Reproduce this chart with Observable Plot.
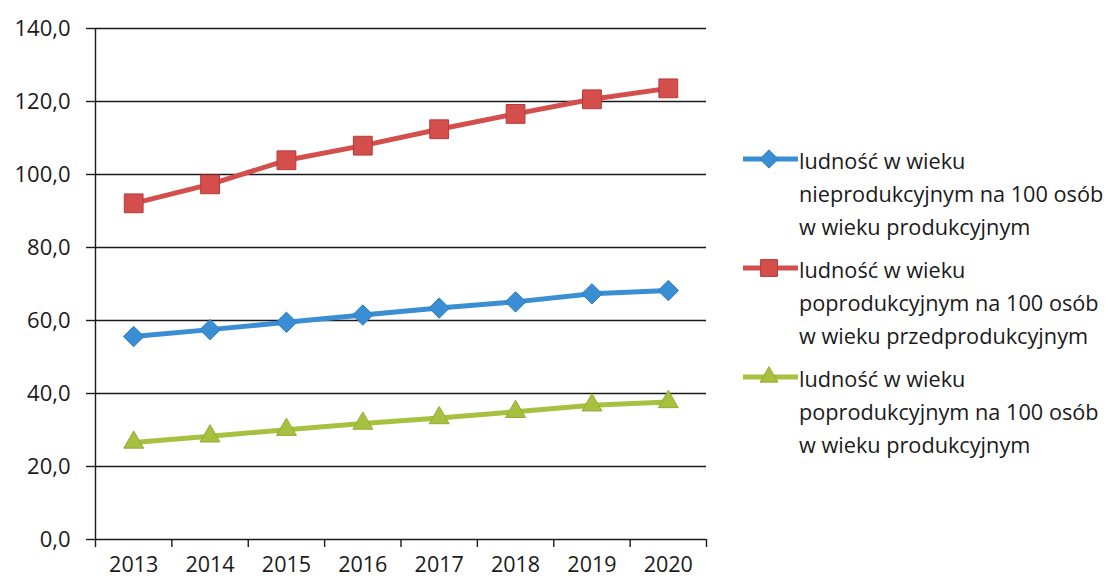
<!DOCTYPE html>
<html>
<head>
<meta charset="utf-8">
<script src="https://cdn.jsdelivr.net/npm/d3@7"></script>
<script src="https://cdn.jsdelivr.net/npm/@observablehq/plot@0.6"></script>
<style>
  html, body { margin: 0; padding: 0; background: #fff; }
  #wrap { position: relative; width: 1110px; height: 580px; font-family: "Open Sans", sans-serif; }
  #chart { position: absolute; left: 0; top: 0; }
  .leg { position: absolute; left: 799px; font-size: 21.7px; line-height: 33px; color: #1a1a1a; white-space: nowrap; }
  .sw { position: absolute; left: 741px; }
</style>
</head>
<body>
<div id="wrap"><div id="chart"></div></div>
<script>
const years = [2013, 2014, 2015, 2016, 2017, 2018, 2019, 2020];
const nieprodukcyjny = [55.6, 57.5, 59.5, 61.5, 63.4, 65.1, 67.3, 68.2];
const poprodPrzed = [92.1, 97.3, 103.9, 107.9, 112.4, 116.6, 120.6, 123.6];
const poprodProd = [26.6, 28.3, 30.1, 31.8, 33.3, 35.0, 36.8, 37.7];
const yTicks = [0, 20, 40, 60, 80, 100, 120, 140];
const seriesNames = [
  ["ludność w wieku", "nieprodukcyjnym na 100 osób", "w wieku produkcyjnym"],
  ["ludność w wieku", "poprodukcyjnym na 100 osób", "w wieku przedprodukcyjnym"],
  ["ludność w wieku", "poprodukcyjnym na 100 osób", "w wieku produkcyjnym"]
];
const colors = ["#3a8ed3", "#d44f4c", "#a8c03f"];
const strokes = ["#2f7cc0", "#b5393a", "#93ab34"];
const symbols = ["diamond2", "square", "triangle"];
const radii = [9.2, 10.6, 7.4];

const seriesValues = [nieprodukcyjny, poprodPrzed, poprodProd];
const data = seriesValues.flatMap((vals, s) => vals.map((v, i) => ({series: s, year: years[i], value: v})));
const boundaries = [...years.map(y => y - 0.5), years[years.length - 1] + 0.5];
const fmt = d => d.toFixed(1).replace(".", ",");

const marks = [
  Plot.ruleY(yTicks, {y: d => d, stroke: "#1a1a1a", strokeWidth: 1.4}),
  Plot.ruleX([boundaries[0]], {y1: 0, y2: yTicks[yTicks.length - 1], stroke: "#1a1a1a", strokeWidth: 1.4}),
  Plot.axisY({ticks: yTicks, label: null, tickSize: 9, tickPadding: 16, tickFormat: fmt, fontSize: 22, stroke: "#1a1a1a", strokeWidth: 1.4, fill: "#1a1a1a"}),
  Plot.axisX({ticks: boundaries, label: null, tickSize: 8, tickFormat: () => "", stroke: "#1a1a1a", strokeWidth: 1.4}),
  Plot.axisX({ticks: years, label: null, tickSize: 0, tickPadding: 17, tickFormat: d => String(d), fontSize: 21.5, fill: "#1a1a1a"})
];
seriesValues.forEach((vals, s) => {
  const rows = data.filter(d => d.series === s);
  marks.push(Plot.line(rows, {x: "year", y: "value", stroke: colors[s], strokeWidth: 5}));
});
seriesValues.forEach((vals, s) => {
  const rows = data.filter(d => d.series === s);
  marks.push(Plot.dot(rows, {x: "year", y: "value", symbol: () => symbols[s], r: radii[s], fill: colors[s], stroke: strokes[s], strokeWidth: 1}));
});

const chart = Plot.plot({
  width: 1110,
  height: 580,
  marginLeft: 95,
  marginRight: 404,
  marginTop: 28,
  marginBottom: 41,
  style: {fontFamily: "'Open Sans', sans-serif", background: "#fff", color: "#1a1a1a"},
  x: {type: "linear", domain: [boundaries[0], boundaries[boundaries.length - 1]], axis: null},
  y: {domain: [0, 140], axis: null},
  symbol: {type: "identity"},
  marks
});
document.getElementById("chart").appendChild(chart);

// Legend
const wrap = document.getElementById("wrap");
const groupTops = [144, 253, 362];
const symMap = {diamond2: d3.symbolDiamond2, square: d3.symbolSquare, triangle: d3.symbolTriangle};
seriesNames.forEach((lines, s) => {
  const div = document.createElement("div");
  div.className = "leg";
  div.style.top = groupTops[s] + "px";
  div.innerHTML = lines.join("<br>");
  wrap.appendChild(div);
  const svg = d3.create("svg").attr("class", "sw").attr("width", 58).attr("height", 30)
    .style("top", groupTops[s] + "px");
  svg.append("line").attr("x1", 2).attr("x2", 57).attr("y1", 15).attr("y2", 15)
    .attr("stroke", colors[s]).attr("stroke-width", 5);
  svg.append("path").attr("transform", "translate(28,15)")
    .attr("d", d3.symbol(symMap[symbols[s]], Math.PI * radii[s] * radii[s] * 0.8)())
    .attr("fill", colors[s]).attr("stroke", strokes[s]).attr("stroke-width", 1);
  wrap.appendChild(svg.node());
});
</script>
</body>
</html>
